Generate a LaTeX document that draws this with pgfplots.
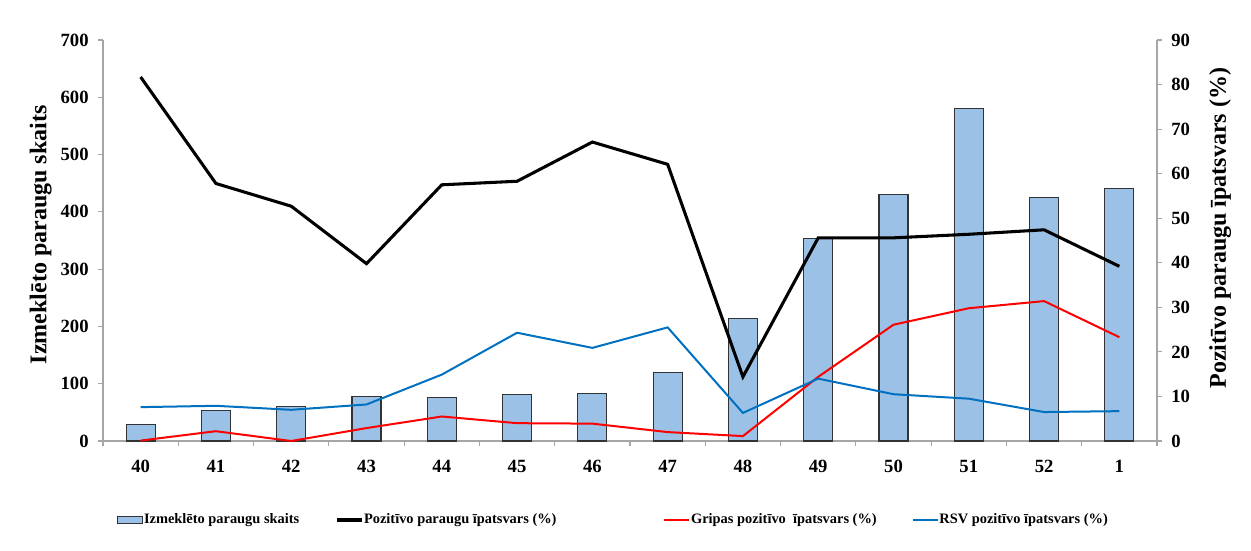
\documentclass[border=0pt]{standalone}
\usepackage{fontspec}
\setmainfont{Liberation Serif}
\usepackage{pgfplots}
\pgfplotsset{compat=1.18}
\definecolor{barblue}{HTML}{9BC2E6}
\definecolor{bardraw}{HTML}{333333}
\definecolor{rsvblue}{HTML}{0070C0}
\definecolor{axgray}{HTML}{A6A6A6}
\pgfplotsset{
  common/.style={
    scale only axis, width=790.5pt, height=300.75pt,
    at={(0,0)}, anchor=south west,
    xmin=-0.5, xmax=13.5,
    axis line style={-, draw=axgray, line width=0.8pt},
    tick align=outside,
    major tick length=3.75pt, minor tick length=3.75pt,
    tick style={draw=axgray, line width=0.8pt},
    /pgf/number format/assume math mode=true,
    ticklabel style={font=\fontsize{14}{16}\selectfont\bfseries},
    label style={font=\fontsize{18}{21}\selectfont\bfseries},
  }
}
\begin{document}
\begin{tikzpicture}
\useasboundingbox (-77.25pt,-81.75pt) rectangle (861pt,330.75pt);
\begin{axis}[common,
  axis y line*=left, axis x line*=bottom,
  ymin=0, ymax=700, ytick={0,100,...,700},
  xtick={0,...,13},
  xticklabels={40,41,42,43,44,45,46,47,48,49,50,51,52,1},
  x tick style={draw=none},
  minor xtick={-0.5,0.5,...,13.5},
  minor x tick style={draw=axgray, line width=0.8pt},
  xticklabel style={yshift=-7pt},
  yticklabel style={xshift=-3.5pt},
  ylabel={Izmeklēto paraugu skaits},
  ylabel style={at={(axis description cs:-0.059,0.514)}, anchor=center},
  ybar, bar width=21.75pt,
]
\addplot[fill=barblue, draw=bardraw, line width=0.8pt] coordinates {
(0,28) (1,53) (2,60) (3,77) (4,76) (5,81) (6,83) (7,119) (8,214) (9,353) (10,431) (11,580) (12,425) (13,440)};
\end{axis}
\begin{axis}[common,
  axis x line=none, axis y line*=right,
  ymin=0, ymax=90, ytick={0,10,...,90},
  yticklabel style={xshift=3.5pt},
  ylabel={Pozitīvo paraugu īpatsvars (\%)},
  ylabel style={at={(axis description cs:1.06,0.531)}, anchor=center, rotate=0},
  legend style={at={(axis description cs:0.0133,-0.197)}, anchor=west, draw=none,
    font=\fontsize{10.8}{13}\selectfont\bfseries, legend columns=4,
    /tikz/every even column/.append style={column sep=0pt},
    /tikz/every odd column/.append style={column sep=0pt},
    nodes={inner xsep=0.5pt},
    inner sep=0pt},
  legend cell align=left,
]
\addlegendimage{legend image code/.code={\draw[fill=barblue, draw=bardraw, line width=0.8pt] (0pt,-2.6pt) rectangle (18.75pt,2.6pt);}}
\addlegendentry{\makebox[143pt][l]{Izmeklēto paraugu skaits}}
\addplot[black, line width=2.3pt, legend image code/.code={\draw[black, line width=2.3pt] (0pt,0pt) -- (18.75pt,0pt);}] coordinates {
(0,81.7) (1,57.8) (2,52.7) (3,39.8) (4,57.5) (5,58.3) (6,67.1) (7,62.1) (8,14.4) (9,45.6) (10,45.6) (11,46.4) (12,47.4) (13,39.2)};
\addlegendentry{\makebox[224pt][l]{Pozitīvo paraugu īpatsvars (\%)}}
\addplot[red, line width=1.5pt, legend image code/.code={\draw[red, line width=1.5pt] (0pt,0pt) -- (18.75pt,0pt);}] coordinates {
(0,0.1) (1,2.2) (2,0.0) (3,2.9) (4,5.5) (5,4.0) (6,3.9) (7,2.0) (8,1.1) (9,14.4) (10,26.1) (11,29.8) (12,31.4) (13,23.3)};
\addlegendentry{\makebox[165pt][l]{Gripas pozitīvo\ \ īpatsvars (\%)}}
\addplot[rsvblue, line width=1.5pt, legend image code/.code={\draw[rsvblue, line width=1.5pt] (0pt,0pt) -- (18.75pt,0pt);}] coordinates {
(0,7.6) (1,7.9) (2,7.0) (3,8.2) (4,14.9) (5,24.3) (6,20.9) (7,25.5) (8,6.3) (9,14.0) (10,10.5) (11,9.5) (12,6.5) (13,6.7)};
\addlegendentry{RSV pozitīvo īpatsvars (\%)}
\end{axis}
\end{tikzpicture}
\end{document}
